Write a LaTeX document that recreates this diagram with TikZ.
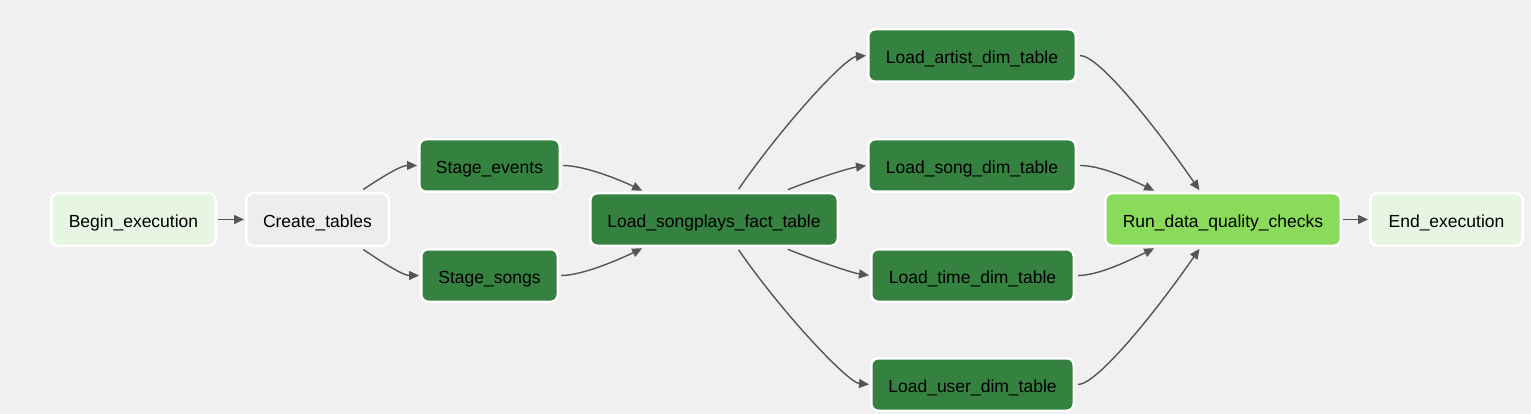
\documentclass[tikz,border=0pt]{standalone}
\usepackage{fontspec}
\setmainfont{Liberation Sans}
\usetikzlibrary{arrows.meta}
\definecolor{bg}{HTML}{F0F0F0}
\definecolor{dkgreen}{HTML}{358140}
\definecolor{ltgreen}{HTML}{E7F6E3}
\definecolor{greybox}{HTML}{EDEDED}
\definecolor{lime}{HTML}{8ADA5B}
\definecolor{edgec}{HTML}{555555}
\tikzset{
  task/.style={draw=white, line width=2.5pt, rounded corners=7pt, minimum height=52.5pt,
    inner sep=0pt, text=black, font=\fontsize{17.5}{20}\selectfont, text depth=0pt, text height=16.5pt},
  edge/.style={draw=edgec, line width=1.4pt, -{Triangle[length=10pt,width=9pt]}, shorten >=1pt, shorten <=1pt}
}
\begin{document}
\begin{tikzpicture}[x=1pt,y=-1pt]
\useasboundingbox (0,0) rectangle (1531,414);
\fill[bg] (0,0) rectangle (1531,414);

\node[task, fill=ltgreen, minimum width=164.5pt] (begin) at (133.5,219.5) {Begin\_execution};
\node[task, fill=greybox, minimum width=142.5pt] (create) at (317.5,219.5) {Create\_tables};
\node[task, fill=dkgreen, minimum width=140.5pt] (sevents) at (489.5,165.5) {Stage\_events};
\node[task, fill=dkgreen, minimum width=136.5pt] (ssongs) at (489.5,275.5) {Stage\_songs};
\node[task, fill=dkgreen, minimum width=247.5pt] (fact) at (714,219.5) {Load\_songplays\_fact\_table};
\node[task, fill=dkgreen, minimum width=207.5pt] (artist) at (972,55.5) {Load\_artist\_dim\_table};
\node[task, fill=dkgreen, minimum width=207.5pt] (song) at (972,165.5) {Load\_song\_dim\_table};
\node[task, fill=dkgreen, minimum width=202.5pt] (time) at (972.5,275.5) {Load\_time\_dim\_table};
\node[task, fill=dkgreen, minimum width=202.5pt] (user) at (972.5,384.5) {Load\_user\_dim\_table};
\node[task, fill=lime, minimum width=235.5pt] (run) at (1223,219.5) {Run\_data\_quality\_checks};
\node[task, fill=ltgreen, minimum width=152.5pt] (end) at (1446.5,219.5) {End\_execution};

\draw[edge] (begin.east) -- (create.west);
\draw[edge] ([xshift=45pt,yshift=2pt]create.north) .. controls +(15,-10) and +(-18,0) .. (sevents.west);
\draw[edge] ([xshift=45pt,yshift=-2pt]create.south) .. controls +(15,10) and +(-18,0) .. (ssongs.west);
\draw[edge] ([xshift=1pt]sevents.east) .. controls +(22,0) and +(-25,-12) .. ([xshift=-71pt,yshift=1pt]fact.north);
\draw[edge] ([xshift=1pt]ssongs.east) .. controls +(22,0) and +(-25,12) .. ([xshift=-71pt,yshift=-1pt]fact.south);
\draw[edge] ([xshift=24pt,yshift=2pt]fact.north) .. controls +(45,-65) and +(-22,2) .. (artist.west);
\draw[edge] ([xshift=73pt,yshift=2pt]fact.north) .. controls +(25,-10) and +(-20,3) .. (song.west);
\draw[edge] ([xshift=73pt,yshift=-2pt]fact.south) .. controls +(25,10) and +(-20,-3) .. (time.west);
\draw[edge] ([xshift=24pt,yshift=-2pt]fact.south) .. controls +(45,65) and +(-22,-2) .. (user.west);
\draw[edge] ([xshift=2pt]artist.east) .. controls +(20,0) and +(-45,-65) .. ([xshift=-23pt,yshift=1pt]run.north);
\draw[edge] ([xshift=2pt]song.east) .. controls +(22,0) and +(-25,-12) .. ([xshift=-68pt,yshift=1pt]run.north);
\draw[edge] ([xshift=2pt]time.east) .. controls +(22,0) and +(-25,12) .. ([xshift=-68pt,yshift=-1pt]run.south);
\draw[edge] ([xshift=2pt]user.east) .. controls +(20,0) and +(-45,65) .. ([xshift=-23pt,yshift=-1pt]run.south);
\draw[edge] (run.east) -- (end.west);
\end{tikzpicture}
\end{document}
